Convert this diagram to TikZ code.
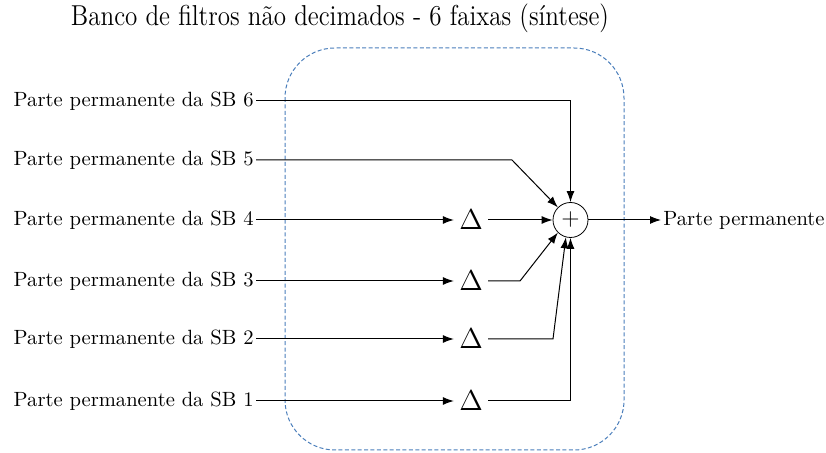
\documentclass[tikz,border=0pt]{standalone}
\usetikzlibrary{arrows.meta}
\definecolor{boxblue}{RGB}{74,126,187}
\begin{document}
\begin{tikzpicture}[x=0.5pt,y=-0.5pt,
  lbl/.style={anchor=east,inner sep=1pt,font=\fontsize{10.3}{12}\selectfont},
  delta/.style={inner sep=2.5pt,font=\Large},
  summer/.style={draw,circle,minimum size=17.5pt,inner sep=0pt,font=\large},
  conn/.style={line width=0.5pt,-{Latex[length=5.5pt,width=4pt]}},
  wire/.style={line width=0.5pt}]
\useasboundingbox (0,0) rectangle (826,453);
% title
\node[font=\fontsize{14.4}{16}\selectfont] (title) at (340,18) {\scalebox{0.87}[1]{Banco de filtros não decimados - 6 faixas (síntese)}};
% dashed enclosure
\draw[boxblue,line width=0.5pt,dash pattern=on 2pt off 1.2pt,rounded corners=25pt] (285,48) rectangle (624,450);
% input labels
\node[lbl] (l6) at (256,101) {Parte permanente da SB 6};
\node[lbl] (l5) at (256,160) {Parte permanente da SB 5};
\node[lbl] (l4) at (256,220) {Parte permanente da SB 4};
\node[lbl] (l3) at (256,281) {Parte permanente da SB 3};
\node[lbl] (l2) at (256,339) {Parte permanente da SB 2};
\node[lbl] (l1) at (256,401) {Parte permanente da SB 1};
% delays
\node[delta] (d4) at (471,220) {$\Delta$};
\node[delta] (d3) at (471,281) {$\Delta$};
\node[delta] (d2) at (471,339) {$\Delta$};
\node[delta] (d1) at (471,401) {$\Delta$};
% adder
\node[summer] (sum) at (570.5,220) {$+$};
% output
\node[anchor=west,inner sep=1pt,font=\fontsize{10.3}{12}\selectfont] (out) at (661,220) {Parte permanente};
% bend points
\coordinate (k5) at (512,160);
\coordinate (k3) at (520,281);
\coordinate (k2) at (553,339);
% connections
\draw[conn] (l6.east) -| (sum.north);
\draw[conn] (l5.east) -- (k5) -- (sum.north west);
\draw[conn] (l4.east) -- (d4.west);
\draw[conn] (l3.east) -- (d3.west);
\draw[conn] (l2.east) -- (d2.west);
\draw[conn] (l1.east) -- (d1.west);
\draw[conn] (d4.east) -- (sum.west);
\draw[conn] (d3.east) -- (k3) -- (sum.south west);
\draw[conn] (d2.east) -- (k2) -- (sum.-105);
\draw[conn] (d1.east) -| (sum.south);
\draw[conn] (sum.east) -- (out.west);
\end{tikzpicture}
\end{document}
